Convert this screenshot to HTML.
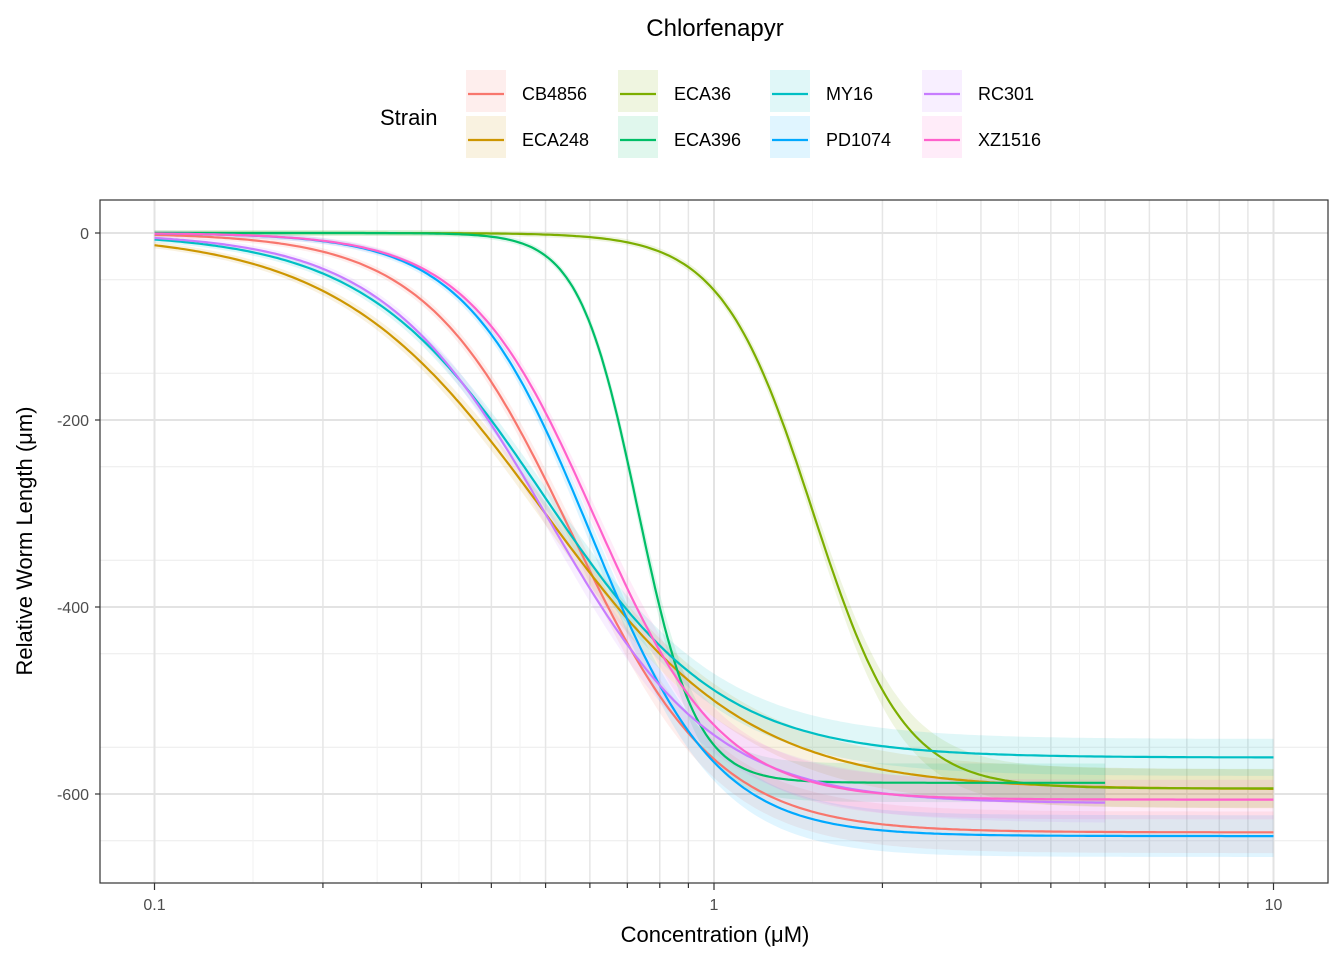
<!DOCTYPE html>
<html><head><meta charset="utf-8"><style>
body{margin:0;background:#fff;font-family:"Liberation Sans",Arial,sans-serif}
svg text{font-family:"Liberation Sans",Arial,sans-serif}
</style></head><body>
<svg id="c" width="1344" height="960" xmlns="http://www.w3.org/2000/svg">
<text x="715" y="36" font-size="24" text-anchor="middle">Chlorfenapyr</text>
<g id="legend"><text x="380" y="125" font-size="22">Strain</text></g>
<rect x="100" y="200" width="1228" height="683" fill="#fff"/>
<g id="grid"></g><g id="bands"></g><g id="lines"></g>
<rect x="100" y="200" width="1228" height="683" fill="none" stroke="#333" stroke-width="1.2"/>
<g id="axes"></g>
<text x="715" y="942" font-size="22" text-anchor="middle">Concentration (μM)</text>
<text transform="translate(32,541) rotate(-90)" font-size="22" text-anchor="middle">Relative Worm Length (μm)</text>
</svg>
<script>
const strains=["CB4856","ECA248","ECA36","ECA396","MY16","PD1074","RC301","XZ1516"];
const colors=["#F8766D","#CD9600","#7CAE00","#00BE67","#00BFC4","#00A9FF","#C77CFF","#FF61CC"];
const bottoms=[-641,-595,-594,-588,-561,-645,-610,-606];
const ec50s=[0.556,0.496,1.5,0.73,0.496,0.603,0.505,0.611];
const slopes=[3.36,2.37,5.34,8.3,2.73,3.89,2.92,3.83];
const xmaxs=[10,10,10,5,10,10,5,10];
const yTicks=[0,-200,-400,-600];
const xTicks=[0.1,1,10];
const xTickLabels=["0.1","1","10"];
const NS="http://www.w3.org/2000/svg";
const X=v=>714+559.5*Math.log10(v);
const Y=v=>233-0.935*v;
function mk(t,a,p){const e=document.createElementNS(NS,t);for(const k in a)e.setAttribute(k,a[k]);p.appendChild(e);return e;}
const grid=document.getElementById('grid'),axes=document.getElementById('axes');
for(let v=-650;v<=0;v+=100){if(v%200){const l=mk('line',{x1:100,x2:1328,y1:Y(v),y2:Y(v),stroke:'#ececec','stroke-width':1},grid);
}}
for(let d=-1;d<=0;d++)for(let m=2;m<=9;m++){const v=m*Math.pow(10,d);
const l=mk('line',{x1:X(v),x2:X(v),y1:200,y2:883,stroke:'#e6e6e6','stroke-width':1.5},grid);

const t=mk('line',{x1:X(v),x2:X(v),y1:883,y2:888,stroke:'#333','stroke-width':1.2},axes);
}
[0.15,0.25,0.35,0.45,1.5,2.5,3.5,4.5].forEach(v=>{const l=mk('line',{x1:X(v),x2:X(v),y1:200,y2:883,stroke:'#f2f2f2','stroke-width':1},grid);
});
yTicks.forEach(v=>{const l=mk('line',{x1:100,x2:1328,y1:Y(v),y2:Y(v),stroke:'#e3e3e3','stroke-width':2},grid);

const t=mk('line',{x1:95,x2:100,y1:Y(v),y2:Y(v),stroke:'#333','stroke-width':1.2},axes);

const s=mk('text',{x:89,y:Y(v)+6,'font-size':16,'text-anchor':'end',fill:'#4d4d4d'},axes);s.textContent=v;
});
xTicks.forEach((v,i)=>{const l=mk('line',{x1:X(v),x2:X(v),y1:200,y2:883,stroke:'#e3e3e3','stroke-width':2},grid);

const t=mk('line',{x1:X(v),x2:X(v),y1:883,y2:890,stroke:'#333','stroke-width':1.2},axes);

const s=mk('text',{x:X(v),y:910,'font-size':16,'text-anchor':'middle',fill:'#4d4d4d'},axes);s.textContent=xTickLabels[i];
});
const f=(i,x)=>bottoms[i]/(1+Math.pow(ec50s[i]/x,slopes[i]));
const bands=document.getElementById('bands'),lines=document.getElementById('lines'),leg=document.getElementById('legend');
strains.forEach((s,i)=>{let up=[],dn=[],ln=[];
for(let k=0;k<=300;k++){const lx=-1+k/300*Math.log10(xmaxs[i]*10);const x=Math.pow(10,lx);const y=f(i,x);
const w=3+Math.abs(y)*0.03;ln.push(X(x).toFixed(1)+','+Y(y).toFixed(1));
up.push(X(x).toFixed(1)+','+Y(y+w).toFixed(1));dn.unshift(X(x).toFixed(1)+','+Y(y-w).toFixed(1));}
const b=mk('polygon',{points:up.concat(dn).join(' '),fill:colors[i],'fill-opacity':0.12},bands);

const l=mk('polyline',{points:ln.join(' '),fill:'none',stroke:colors[i],'stroke-width':2.2},lines);

const col=Math.floor(i/2),row=i%2;const kx=466+col*152,ky=70+row*46;
const g=mk('g',{},leg);
mk('rect',{x:kx,y:ky,width:40,height:42,fill:colors[i],'fill-opacity':0.12},g);
mk('line',{x1:kx+2,x2:kx+38,y1:ky+24,y2:ky+24,stroke:colors[i],'stroke-width':2.2},g);
const t=mk('text',{x:kx+56,y:ky+30,'font-size':18},g);t.textContent=s;});
</script>
</body></html>
